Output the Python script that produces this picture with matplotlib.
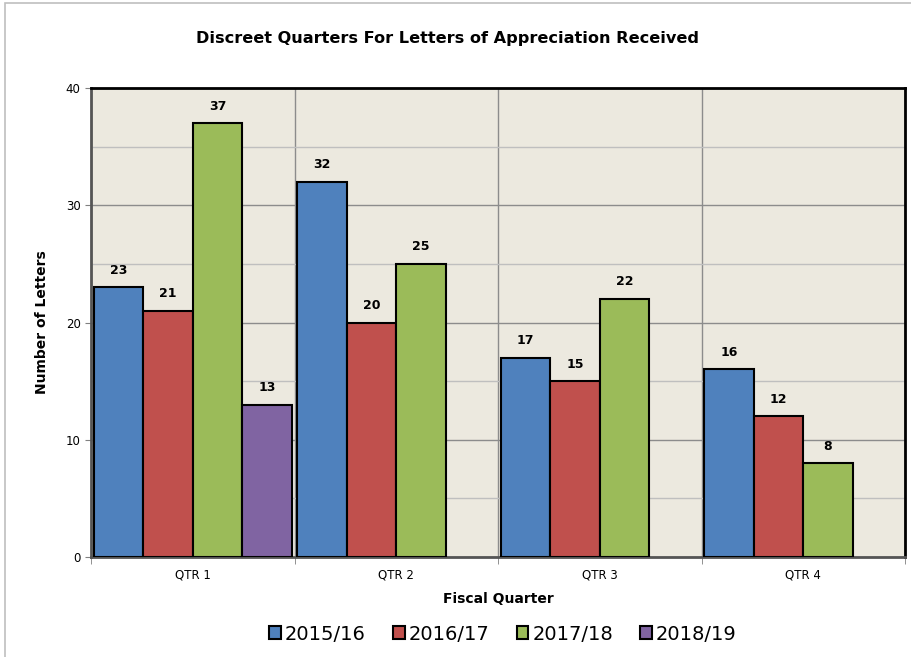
import matplotlib
matplotlib.use("Agg")
import matplotlib.pyplot as plt
import numpy as np
from matplotlib.patches import Rectangle

quarters = ["QTR 1", "QTR 2", "QTR 3", "QTR 4"]
years = ["2015/16", "2016/17", "2017/18", "2018/19"]
letters_2015 = [23, 32, 17, 16]
letters_2016 = [21, 20, 15, 12]
letters_2017 = [37, 25, 22, 8]
letters_2018 = [13, None, None, None]
series = [letters_2015, letters_2016, letters_2017, letters_2018]
colors = ["#4f81bd", "#c0504d", "#9bbb59", "#8064a2"]

fig = plt.figure(figsize=(9.12, 6.57), dpi=100)
fig.patches.append(Rectangle((5 / 912, -0.01), 1.0, 1 - 3 / 657 + 0.01, transform=fig.transFigure,
                             fill=False, edgecolor="#bfbfbf", linewidth=1.2))
ax = fig.add_axes([91 / 912, 100 / 657, 814 / 912, 469 / 657])
ax.set_facecolor("#ece9df")

width = 0.243
x = np.arange(len(quarters))
for i, (vals, col, lab) in enumerate(zip(series, colors, years)):
    pos = x - 1.5 * width + i * width
    vv = [np.nan if v is None else v for v in vals]
    ax.bar(pos, vv, width=width, color=col, edgecolor="black", linewidth=1.5, label=lab, zorder=3)
    for p, v in zip(pos, vals):
        if v is not None:
            ax.text(p, v + 0.9, str(v), ha="center", va="bottom", fontsize=9, fontweight="bold", zorder=4)

ax.set_xlim(-0.5, 3.5)
ax.set_ylim(0, 40)
ax.set_yticks([0, 10, 20, 30, 40])
ax.set_yticks([5, 15, 25, 35], minor=True)
ax.tick_params(axis="y", which="minor", length=0)
ax.tick_params(axis="y", labelsize=8.5, length=4, color="#808080")
ax.set_xticks(x)
ax.set_xticklabels(quarters, fontsize=8.5)
ax.set_xticks([-0.5, 0.5, 1.5, 2.5, 3.5], minor=True)
ax.tick_params(axis="x", which="major", length=0, pad=8)
ax.tick_params(axis="x", which="minor", length=5, color="#808080")
ax.grid(axis="y", which="major", color="#8c8c8c", linewidth=1.0, zorder=0)
ax.grid(axis="y", which="minor", color="#bfbfbf", linewidth=1.0, zorder=0)
ax.grid(axis="x", which="minor", color="#8c8c8c", linewidth=1.0, zorder=0)
ax.set_axisbelow(True)
for side in ["top", "right"]:
    ax.spines[side].set_linewidth(2.0)
    ax.spines[side].set_color("black")
for side in ["left", "bottom"]:
    ax.spines[side].set_linewidth(2.0)
    ax.spines[side].set_color("#555555")

ax.set_xlabel("Fiscal Quarter", fontsize=10, fontweight="bold", labelpad=8)
ax.set_ylabel("Number of Letters", fontsize=10, fontweight="bold", labelpad=12)
fig.text(448 / 912, 1 - 38 / 657, "Discreet Quarters For Letters of Appreciation Received",
         ha="center", va="center", fontsize=11.6, fontweight="bold")
ax.legend(loc="center", bbox_to_anchor=(503 / 912, 1 - 634 / 657), bbox_transform=fig.transFigure,
          ncol=4, frameon=False, fontsize=14, handlelength=0.6, handleheight=0.6,
          handletextpad=0.2, columnspacing=1.4)

fig.savefig("out.png", dpi=100)
